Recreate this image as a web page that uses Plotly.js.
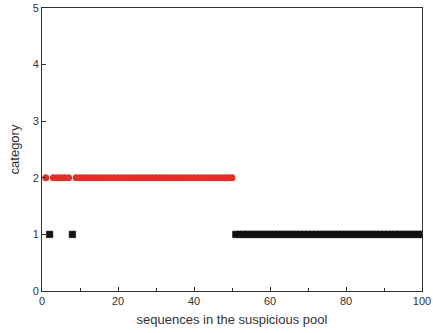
<!DOCTYPE html>
<html><head><meta charset="utf-8">
<script src="https://cdn.plot.ly/plotly-3.0.1.min.js"></script>
<style>html,body{margin:0;padding:0;background:#fff}#chart{width:433px;height:333px}</style>
</head><body><div id="chart"></div>
<script>
var redX = [1,3,4,5,6,7,9,10,11,12,13,14,15,16,17,18,19,20,21,22,23,24,25,26,27,28,29,30,31,32,33,34,35,36,37,38,39,40,41,42,43,44,45,46,47,48,49,50];
var redY = redX.map(function(){return 2;});
var blackX = [2,8,51,52,53,54,55,56,57,58,59,60,61,62,63,64,65,66,67,68,69,70,71,72,73,74,75,76,77,78,79,80,81,82,83,84,85,86,87,88,89,90,91,92,93,94,95,96,97,98,99,100];
var blackY = blackX.map(function(){return 1;});
var xTitle = "sequences in the suspicious pool";
var yTitle = "category";

var traces = [
  {x: redX, y: redY, type: 'scatter', mode: 'markers', marker: {symbol: 'circle', size: 7, color: '#e2302a', line: {width: 0}}, cliponaxis: false},
  {x: blackX, y: blackY, type: 'scatter', mode: 'markers', marker: {symbol: 'square', size: 6.5, color: '#111111', line: {width: 0.6, color: '#111111'}}, cliponaxis: true}
];
var axisCommon = {
  showgrid: false, zeroline: false, showline: true, linecolor: '#333', linewidth: 1,
  mirror: true, ticks: 'inside', ticklen: 4, tickcolor: '#333',
  tickfont: {family: 'Liberation Sans, Arial, sans-serif', size: 11, color: '#333'}
};
var layout = {
  width: 433, height: 333,
  margin: {l: 42, r: 11, t: 8, b: 42},
  showlegend: false,
  paper_bgcolor: '#fff', plot_bgcolor: '#fff',
  xaxis: Object.assign({}, axisCommon, {
    range: [0, 100], tickvals: [0,20,40,60,80,100],
    minor: {tickvals: [10,30,50,70,90], ticks: 'inside', ticklen: 3, tickcolor: '#333', showgrid: false},
    title: {text: xTitle, font: {family: 'Liberation Sans, Arial, sans-serif', size: 13, color: '#333'}, standoff: 8}
  }),
  yaxis: Object.assign({}, axisCommon, {
    range: [0, 5], tickvals: [0,1,2,3,4,5],
    title: {text: yTitle, font: {family: 'Liberation Sans, Arial, sans-serif', size: 13, color: '#333'}, standoff: 10}
  })
};
Plotly.newPlot('chart', traces, layout, {displayModeBar: false, staticPlot: true});
</script>
</body></html>
